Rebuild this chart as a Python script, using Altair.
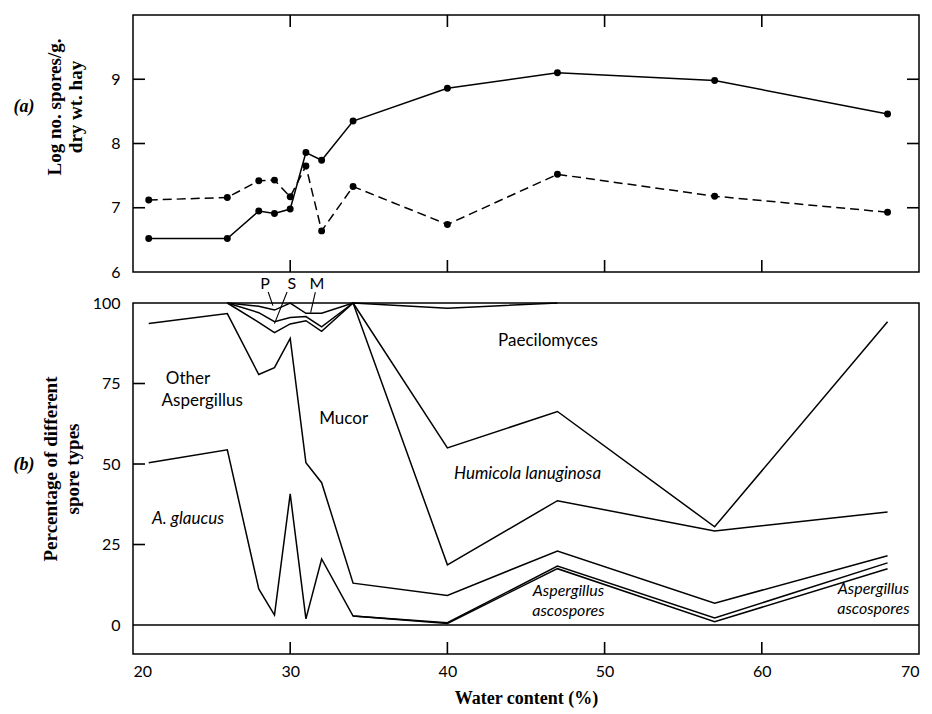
import altair as alt
import pandas as pd

# ---------------- Panel (a): log no. spores / g dry wt hay ----------------
water = [21, 26, 28, 29, 30, 31, 32, 34, 40, 47, 57, 68]
log_solid = [6.52, 6.52, 6.95, 6.91, 6.98, 7.86, 7.74, 8.35, 8.86, 9.10, 8.98, 8.46]
log_dashed = [7.12, 7.16, 7.42, 7.43, 7.17, 7.65, 6.64, 7.33, 6.74, 7.52, 7.18, 6.93]

# ---------------- Panel (b): cumulative percentage boundaries ----------------
glaucus_x = [21, 26, 28, 29, 30, 31, 32, 34, 40, 47, 57, 68]
glaucus_y = [50.4, 54.4, 11.2, 3.1, 40.7, 1.9, 20.5, 2.8, 0.5, 17.5, 1.0, 17.5]
asco_x = [34, 40, 47, 57, 68]
asco_y = [2.8, 0.7, 18.3, 2.2, 19.3]
other_x = [21, 26, 28, 29, 30, 31, 32, 34, 40, 47, 57, 68]
other_y = [93.6, 96.7, 77.8, 79.9, 89.0, 50.4, 44.2, 13.0, 9.2, 23.0, 6.8, 21.5]
mucor_x = [26, 28, 29, 30, 31, 32, 34, 40, 47, 57, 68]
mucor_y = [100, 94.0, 90.8, 93.5, 94.5, 91.2, 100, 18.7, 38.6, 29.2, 35.1]
s_x = [26, 28, 29, 30, 31, 32, 34]
s_y = [100, 97.0, 94.2, 95.5, 95.8, 92.6, 100]
p_x = [26, 28, 29, 30, 31, 32, 34, 40, 47]
p_y = [100, 99.0, 97.8, 100, 96.8, 96.8, 100, 98.4, 100]
humicola_x = [34, 40, 47, 57, 68]
humicola_y = [100, 55.0, 66.3, 30.5, 94.2]

# labels inside panel (b)
lab_text = ["Paecilomyces", "Other", "Aspergillus", "Mucor"]
lab_x = [46.4, 23.5, 24.4, 33.4]
lab_y = [88.3, 76.5, 69.7, 64.0]
ital_big_text = ["Humicola lanuginosa", "A. glaucus"]
ital_big_x = [45.1, 23.5]
ital_big_y = [47.0, 33.0]
ital_text = ["Aspergillus", "ascospores", "Aspergillus", "ascospores"]
ital_x = [47.7, 47.7, 67.1, 67.1]
ital_y = [10.6, 4.4, 11.2, 5.0]
psm_text = ["P", "S", "M"]
psm_x = [28.4, 30.1, 31.7]
psm_y = [106.0, 106.0, 106.0]
lead_x1 = [28.6, 29.8, 31.6]
lead_y1 = [103.4, 103.4, 103.4]
lead_x2 = [28.9, 29.0, 31.3]
lead_y2 = [99.2, 93.6, 97.0]

xticks = [30, 40, 50, 60]
yticks_a = [7, 8, 9]
yticks_b = [25, 50, 75]

W = 786
HA = 257
HB = 351
TK = 12  # inward tick length (px)

xs = alt.Scale(domain=[20, 70], nice=False, zero=False)
ysa = alt.Scale(domain=[6, 10], nice=False, zero=False)
ysb = alt.Scale(domain=[-9, 100], nice=False, zero=False)

LABEL_FONT = "Lato"
SERIF = "Liberation Serif"


def hticks(df, yscale, xpos):
    return alt.Chart(df).mark_rule(color="black", strokeWidth=1.6).encode(
        y=alt.Y("v:Q", scale=yscale), x=alt.value(xpos - TK / 2), x2=alt.value(xpos + TK / 2))


def vticks(df, ypos):
    return alt.Chart(df).mark_rule(color="black", strokeWidth=1.6).encode(
        x=alt.X("v:Q", scale=xs), y=alt.value(ypos - TK / 2), y2=alt.value(ypos + TK / 2))


# ---------- panel (a) ----------
df_a = pd.DataFrame({
    "water": water * 2,
    "val": log_solid + log_dashed,
    "kind": ["solid"] * len(water) + ["dashed"] * len(water),
})

xa_axis = alt.X("water:Q", scale=xs, axis=alt.Axis(labels=False, title=None))
ya_axis = alt.Y("val:Q", scale=ysa,
                axis=alt.Axis(values=[6, 7, 8, 9], title=None, labelPadding=13,
                              format="d"))

solid_line = alt.Chart(df_a).transform_filter("datum.kind == 'solid'").mark_line(
    color="black", strokeWidth=1.5).encode(x=xa_axis, y=ya_axis)
dashed_line = alt.Chart(df_a).transform_filter("datum.kind == 'dashed'").mark_line(
    color="black", strokeWidth=1.5, strokeDash=[9, 5]).encode(x=xa_axis, y=ya_axis)
pts_a = alt.Chart(df_a).mark_circle(color="black", size=48, opacity=1).encode(
    x=xa_axis, y=ya_axis)

df_xt = pd.DataFrame({"v": xticks})
df_yta = pd.DataFrame({"v": yticks_a})
tk_a = [
    hticks(df_yta, ysa, TK / 2),
    hticks(df_yta, ysa, W - TK / 2),
    vticks(df_xt, TK / 2),
    vticks(df_xt, HA - TK / 2),
]

tag_a = alt.Chart(pd.DataFrame({"t": ["(a)"]})).mark_text(
    font=SERIF, fontSize=18, fontStyle="italic", fontWeight="bold", align="center",
    baseline="middle", color="black").encode(x=alt.value(-109), y=alt.value(92), text="t:N")
ttl_a1 = alt.Chart(pd.DataFrame({"t": ["Log no. spores/g."]})).mark_text(
    font=SERIF, fontSize=19, fontWeight="bold", angle=270, align="center",
    baseline="middle", color="black").encode(x=alt.value(-78), y=alt.value(92), text="t:N")
ttl_a2 = alt.Chart(pd.DataFrame({"t": ["dry wt. hay"]})).mark_text(
    font=SERIF, fontSize=19, fontWeight="bold", angle=270, align="center",
    baseline="middle", color="black").encode(x=alt.value(-57), y=alt.value(92), text="t:N")

panel_a = alt.layer(solid_line, dashed_line, pts_a, *tk_a, tag_a, ttl_a1, ttl_a2).properties(
    width=W, height=HA)

# ---------- panel (b) ----------
series = {
    "glaucus": (glaucus_x, glaucus_y),
    "asco": (asco_x, asco_y),
    "other": (other_x, other_y),
    "mucor": (mucor_x, mucor_y),
    "s": (s_x, s_y),
    "p": (p_x, p_y),
    "humicola": (humicola_x, humicola_y),
}
rows = []
for name, (sx, sy) in series.items():
    for i, (a, b) in enumerate(zip(sx, sy)):
        rows.append({"s": name, "x": a, "y": b, "o": i})
df_b = pd.DataFrame(rows)

xb_axis = alt.X("x:Q", scale=xs,
                axis=alt.Axis(values=[20, 30, 40, 50, 60, 70], title="Water content (%)",
                              labelPadding=9, titlePadding=10, format="d"))
yb_axis = alt.Y("y:Q", scale=ysb,
                axis=alt.Axis(values=[0, 25, 50, 75, 100], title=None, labelPadding=13,
                              format="d"))

lines_b = alt.Chart(df_b).mark_line(color="black", strokeWidth=1.5).encode(
    x=xb_axis, y=yb_axis, detail="s:N", order="o:Q")

zero_line = alt.Chart(pd.DataFrame({"v": [0]})).mark_rule(
    color="black", strokeWidth=1.3).encode(y=alt.Y("v:Q", scale=ysb))

df_ytb = pd.DataFrame({"v": yticks_b})
tk_b = [
    hticks(df_ytb, ysb, TK / 2),
    vticks(df_xt, HB - TK / 2),
]

df_lab = pd.DataFrame({"t": lab_text, "x": lab_x, "y": lab_y})
df_ital_big = pd.DataFrame({"t": ital_big_text, "x": ital_big_x, "y": ital_big_y})
df_ital = pd.DataFrame({"t": ital_text, "x": ital_x, "y": ital_y})
df_psm = pd.DataFrame({"t": psm_text, "x": psm_x, "y": psm_y})
df_lead = pd.DataFrame({"x": lead_x1, "y": lead_y1, "x2": lead_x2, "y2": lead_y2})

txt_lab = alt.Chart(df_lab).mark_text(font=LABEL_FONT, fontSize=17, color="black").encode(
    x=alt.X("x:Q", scale=xs), y=alt.Y("y:Q", scale=ysb), text="t:N")
txt_ital_big = alt.Chart(df_ital_big).mark_text(font=LABEL_FONT, fontSize=17,
                                                fontStyle="italic", color="black").encode(
    x=alt.X("x:Q", scale=xs), y=alt.Y("y:Q", scale=ysb), text="t:N")
txt_ital = alt.Chart(df_ital).mark_text(font=LABEL_FONT, fontSize=16, fontStyle="italic",
                                        color="black").encode(
    x=alt.X("x:Q", scale=xs), y=alt.Y("y:Q", scale=ysb), text="t:N")
txt_psm = alt.Chart(df_psm).mark_text(font=LABEL_FONT, fontSize=16, color="black").encode(
    x=alt.X("x:Q", scale=xs), y=alt.Y("y:Q", scale=ysb), text="t:N")
leaders = alt.Chart(df_lead).mark_rule(color="black", strokeWidth=1.1).encode(
    x=alt.X("x:Q", scale=xs), y=alt.Y("y:Q", scale=ysb), x2="x2:Q", y2="y2:Q")

tag_b = alt.Chart(pd.DataFrame({"t": ["(b)"]})).mark_text(
    font=SERIF, fontSize=18, fontStyle="italic", fontWeight="bold", align="center",
    baseline="middle", color="black").encode(x=alt.value(-109), y=alt.value(162), text="t:N")
ttl_b1 = alt.Chart(pd.DataFrame({"t": ["Percentage of different"]})).mark_text(
    font=SERIF, fontSize=19, fontWeight="bold", angle=270, align="center",
    baseline="middle", color="black").encode(x=alt.value(-82), y=alt.value(166), text="t:N")
ttl_b2 = alt.Chart(pd.DataFrame({"t": ["spore types"]})).mark_text(
    font=SERIF, fontSize=19, fontWeight="bold", angle=270, align="center",
    baseline="middle", color="black").encode(x=alt.value(-60), y=alt.value(166), text="t:N")

panel_b = alt.layer(lines_b, zero_line, *tk_b, txt_lab, txt_ital_big, txt_ital, txt_psm,
                    leaders, tag_b, ttl_b1, ttl_b2).properties(width=W, height=HB)

chart = alt.vconcat(panel_a, panel_b, spacing=31, bounds="flush").properties(
    padding={"left": 12, "top": 13, "right": 2, "bottom": 2}
).configure_view(
    stroke="black", strokeWidth=1.5
).configure_axis(
    domain=False, ticks=False, tickSize=0, grid=False,
    labelFont=LABEL_FONT, labelFontSize=16, labelColor="black",
    titleFont=SERIF, titleFontSize=18, titleFontWeight="bold", titleColor="black"
)

chart.save("out.html", embed_options={"renderer": "svg", "actions": False})
